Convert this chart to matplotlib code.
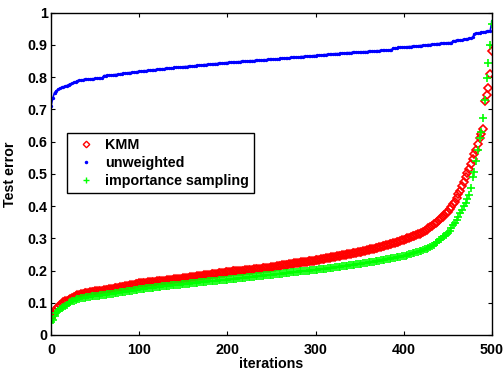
import numpy as np
import matplotlib
matplotlib.use("Agg")
import matplotlib.pyplot as plt
from matplotlib.lines import Line2D

# sorted test errors (in thousandths), sampled every 2 iterations (0..500)
kmm_err = [52, 62, 72, 80, 87, 93, 97, 101, 104, 107, 110, 113, 116, 119, 122, 124, 125, 126, 128, 129, 130, 131, 132, 133, 134, 135,
           136, 136, 137, 138, 139, 140, 141, 142, 143, 144, 145, 146, 147, 148, 149, 150, 151, 152, 153, 154, 155, 156, 158, 159, 160,
           160, 161, 161, 162, 163, 163, 164, 165, 165, 166, 167, 167, 168, 169, 169, 170, 171, 171, 172, 173, 173, 174, 175, 175, 176,
           177, 178, 178, 179, 180, 181, 181, 182, 183, 184, 184, 185, 186, 186, 187, 188, 189, 190, 190, 191, 192, 193, 193, 194, 195,
           196, 196, 197, 198, 198, 199, 199, 200, 200, 201, 201, 202, 203, 203, 204, 205, 205, 206, 206, 207, 208, 208, 209, 209, 210,
           211, 212, 213, 214, 215, 216, 216, 217, 218, 219, 220, 221, 222, 223, 224, 224, 225, 226, 227, 228, 229, 230, 231, 231, 232,
           233, 234, 235, 236, 237, 238, 239, 240, 241, 242, 243, 244, 245, 246, 247, 248, 249, 250, 251, 252, 253, 254, 255, 256, 258,
           259, 260, 262, 263, 264, 266, 267, 268, 270, 271, 272, 274, 275, 277, 278, 280, 281, 283, 284, 286, 288, 290, 292, 294, 296,
           298, 300, 302, 304, 306, 308, 310, 312, 314, 316, 320, 324, 327, 331, 335, 339, 344, 348, 352, 357, 362, 367, 372, 377, 383,
           390, 396, 405, 414, 425, 436, 448, 462, 476, 490, 503, 515, 530, 545, 560, 575, 592, 610, 625, 640, 725, 745, 765, 810, 880]

unweighted_err = [710, 735, 752, 758, 762, 766, 768, 770, 772, 774, 777, 779, 781, 784, 786, 789, 790, 791, 792, 793, 793, 794, 794, 795, 795, 796,
                  796, 797, 797, 798, 805, 805, 806, 806, 807, 807, 808, 808, 809, 810, 811, 812, 812, 813, 814, 814, 815, 816, 816, 817, 818,
                  819, 819, 820, 820, 821, 822, 822, 823, 823, 824, 825, 825, 826, 826, 827, 827, 828, 829, 829, 830, 830, 831, 831, 832, 832,
                  833, 833, 834, 834, 835, 835, 836, 837, 837, 838, 838, 839, 839, 840, 840, 841, 841, 842, 842, 843, 843, 844, 844, 845, 845,
                  846, 846, 846, 847, 847, 848, 848, 849, 849, 849, 850, 850, 851, 851, 851, 852, 852, 853, 853, 853, 854, 854, 855, 855, 855,
                  856, 856, 857, 857, 858, 858, 859, 859, 860, 860, 861, 861, 862, 862, 863, 863, 864, 864, 865, 865, 866, 866, 866, 867, 867,
                  868, 868, 869, 869, 870, 870, 871, 871, 872, 872, 873, 873, 873, 874, 874, 875, 875, 876, 876, 876, 877, 877, 877, 878, 878,
                  878, 879, 879, 879, 880, 880, 881, 881, 881, 882, 882, 883, 883, 884, 884, 884, 885, 885, 891, 891, 891, 892, 892, 893, 893,
                  894, 894, 895, 895, 896, 896, 897, 897, 898, 898, 899, 900, 900, 901, 901, 902, 903, 903, 904, 904, 905, 905, 906, 906, 907,
                  907, 907, 913, 913, 914, 914, 915, 916, 917, 918, 919, 920, 922, 923, 935, 936, 937, 938, 939, 940, 941, 942, 943, 944, 975]

importance_err = [40, 48, 60, 68, 75, 80, 84, 88, 91, 94, 98, 101, 104, 106, 109, 112, 113, 114, 115, 116, 117, 118, 119, 120, 120, 121,
                  121, 122, 123, 124, 124, 125, 126, 127, 128, 128, 129, 130, 131, 132, 132, 133, 134, 135, 136, 137, 138, 139, 140, 141, 142,
                  143, 143, 144, 145, 145, 146, 147, 147, 148, 149, 149, 150, 151, 151, 152, 152, 153, 154, 154, 155, 155, 156, 156, 157, 157,
                  158, 158, 159, 160, 160, 161, 162, 162, 163, 164, 164, 165, 165, 166, 167, 167, 168, 168, 169, 170, 170, 171, 171, 172, 172,
                  173, 173, 174, 174, 175, 176, 176, 177, 178, 178, 179, 179, 180, 181, 181, 182, 182, 183, 184, 184, 185, 185, 186, 186, 186,
                  187, 188, 188, 189, 190, 190, 191, 192, 192, 193, 194, 194, 195, 196, 196, 197, 198, 198, 199, 200, 200, 201, 201, 202, 202,
                  203, 204, 204, 205, 206, 206, 207, 208, 209, 209, 210, 211, 212, 212, 213, 214, 215, 215, 216, 217, 217, 218, 219, 219, 220,
                  221, 222, 223, 224, 225, 226, 227, 228, 229, 230, 231, 232, 233, 234, 235, 236, 237, 238, 239, 240, 241, 242, 243, 244, 245,
                  246, 248, 250, 251, 253, 255, 257, 258, 260, 262, 264, 266, 268, 271, 274, 277, 280, 284, 289, 295, 299, 303, 307, 311, 316,
                  324, 332, 340, 348, 357, 367, 378, 389, 400, 410, 422, 434, 456, 490, 507, 540, 574, 610, 630, 672, 730, 797, 843, 900, 965]

iterations = np.arange(0, 501, 2)
x_ticks = [0, 100, 200, 300, 400, 500]
y_ticks = [0, 0.1, 0.2, 0.3, 0.4, 0.5, 0.6, 0.7, 0.8, 0.9, 1]
y_tick_labels = ["0", "0.1", "0.2", "0.3", "0.4", "0.5", "0.6", "0.7", "0.8", "0.9", "1"]
series_labels = ["KMM", "unweighted", "importance sampling"]

plt.rcParams['font.family'] = ['Liberation Sans', 'DejaVu Sans']
plt.rcParams['font.weight'] = 'bold'
FS = 10.3

fig = plt.figure(figsize=(5.03, 3.73), dpi=100)
ax = fig.add_axes([0.1014, 0.1019, 0.8767, 0.8641])

red, blue, green = '#ff0000', '#0000ff', '#00ff00'

ax.plot(iterations, np.array(kmm_err) / 1000.0, linestyle='none', marker='D', markersize=3.7,
        markerfacecolor='none', markeredgecolor=red, markeredgewidth=1.2)
ax.plot(iterations, np.array(unweighted_err) / 1000.0, linestyle='-', linewidth=1.2,
        marker='.', markersize=2.8, color=blue)
ax.plot(iterations, np.array(importance_err) / 1000.0, linestyle='none', marker='+', markersize=5.3,
        markeredgewidth=1.2, color=green)

ax.set_xlim(0, 500)
ax.set_ylim(0, 1)
ax.set_xticks(x_ticks)
ax.set_xticklabels([str(t) for t in x_ticks], fontsize=FS, fontweight='bold')
ax.set_yticks(y_ticks)
ax.set_yticklabels(y_tick_labels, fontsize=FS, fontweight='bold')
ax.tick_params(direction='in', length=3, width=0.8, top=True, right=True)
ax.tick_params(axis='x', pad=5.5)
ax.tick_params(axis='y', pad=2.5)
for s in ax.spines.values():
    s.set_linewidth(1.0)

ax.set_xlabel('iterations', fontsize=FS, fontweight='bold')
ax.xaxis.set_label_coords(0.5, -0.068)
ax.set_ylabel('Test error', fontsize=FS, fontweight='bold')
ax.yaxis.set_label_coords(-0.076, 0.5)

handles = [
    Line2D([], [], linestyle='none', marker='D', markersize=3.3, markerfacecolor='none',
           markeredgecolor=red, markeredgewidth=1.0),
    Line2D([], [], linestyle='none', marker='.', markersize=3.0, color=blue),
    Line2D([], [], linestyle='none', marker='+', markersize=4.6, markeredgewidth=1.0, color=green),
]
leg = ax.legend(handles, series_labels, loc='upper left', bbox_to_anchor=(0.036, 0.627), borderaxespad=0,
                fancybox=False, edgecolor='black', framealpha=1,
                handlelength=2.0, handletextpad=0.3, labelspacing=0.28, borderpad=0.35,
                prop={'weight': 'bold', 'size': FS})
leg.get_frame().set_linewidth(1.0)

fig.savefig('out.png', dpi=100)
